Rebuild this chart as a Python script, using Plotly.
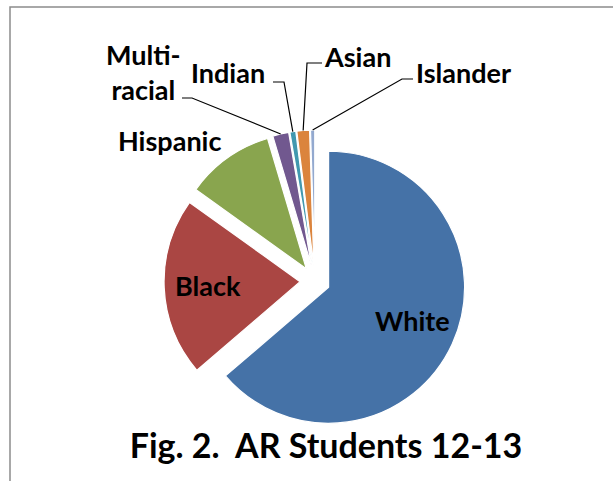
import math
import plotly.graph_objects as go

# ---- data ----
categories = ["White", "Black", "Hispanic", "Multi-racial", "Indian", "Asian", "Islander"]
values = [63.7, 21.2, 10.5, 1.9, 0.7, 1.5, 0.5]
colors = ["#4572A7", "#AA4643", "#89A54E", "#71588F", "#4198AF", "#DB843D", "#93A9CF"]
title_text = "Fig. 2.  AR Students 12-13"

# ---- layout geometry (pixels) ----
W, H = 613, 481
CX, CY = 315, 281
R = 136
PULL = 0.11
half = R * (1 + PULL)
dom_x = [(CX - half) / W, (CX + half) / W]
dom_y = [1 - (CY + half) / H, 1 - (CY - half) / H]

FONT = "Lato"
LABEL_SIZE = 27

def px(x, y):
    return x / W, 1 - y / H

fig = go.Figure(go.Pie(
    labels=categories,
    values=values,
    sort=False,
    direction="clockwise",
    rotation=0,
    pull=[PULL] * len(values),
    marker=dict(colors=colors, line=dict(color="white", width=1.2)),
    textinfo="none",
    domain=dict(x=dom_x, y=dom_y),
    showlegend=False,
    hoverinfo="label+value",
))

# slice geometry computed from the data
total = sum(values)
cum = 0
edge = {}
inner = {}
for c, v in zip(categories, values):
    mid = (cum + v / 2) / total * 2 * math.pi
    cum += v
    d = R * PULL
    edge[c] = (CX + (d + R) * math.sin(mid), CY - (d + R) * math.cos(mid))
    inner[c] = (CX + (d + 0.68 * R) * math.sin(mid), CY - (d + 0.68 * R) * math.cos(mid))

shapes = []
annotations = []

# inside labels
for name, ys in [("White", -5), ("Black", 0)]:
    x, y = px(*inner[name])
    annotations.append(dict(
        text=name, x=x, y=y, xref="paper", yref="paper", yshift=-ys,
        xanchor="center", yanchor="middle", showarrow=False,
        font=dict(family=FONT, size=LABEL_SIZE, color="black", weight="bold"),
    ))

outside_labels = {
    # name: (text, text x, text y, leader start, elbow)
    "Hispanic": ("Hispanic", 169, 140, None, None),
    "Multi-racial": ("Multi-<br>racial", 143, 72, (182, 98), (192, 98)),
    "Indian": ("Indian", 228, 73, (273, 82), (284, 82)),
    "Asian": ("Asian", 357, 57, (322, 63), (307, 63)),
    "Islander": ("Islander", 463, 72, (413, 79), (402, 79)),
}

for name, (txt, tx, ty, p0, p1) in outside_labels.items():
    x, y = px(tx, ty)
    annotations.append(dict(
        text=txt, x=x, y=y, xref="paper", yref="paper",
        xanchor="center", yanchor="middle", showarrow=False,
        font=dict(family=FONT, size=LABEL_SIZE, color="black", weight="bold"),
    ))
    if p0 is not None:
        e = edge[name]
        pts = [px(*p0), px(*p1), px(*e)]
        path = "M {} {} L {} {} L {} {}".format(pts[0][0], pts[0][1], pts[1][0], pts[1][1], pts[2][0], pts[2][1])
        shapes.append(dict(type="path", path=path, xref="paper", yref="paper",
                           line=dict(color="black", width=1.2)))

# frame
fx0, fy0 = px(10, 7)
fx1, fy1 = px(W + 20, H + 20)
shapes.append(dict(type="rect", x0=fx0, y0=fy1, x1=fx1, y1=fy0, xref="paper", yref="paper",
                   line=dict(color="#8c8c8c", width=1.5), layer="below"))

tx, ty = px(326, 446)
fig.update_layout(
    width=W, height=H,
    margin=dict(l=0, r=0, t=0, b=0),
    paper_bgcolor="white",
    plot_bgcolor="white",
    title=dict(text=title_text, x=tx, y=ty, xanchor="center", yanchor="middle",
               xref="paper", yref="paper",
               font=dict(family=FONT, size=34, color="black", weight="bold")),
    shapes=shapes,
    annotations=annotations,
)

fig.write_html("out.html", config={"displayModeBar": False},
               post_script="document.body.style.margin='0';document.body.style.overflow='hidden';")
